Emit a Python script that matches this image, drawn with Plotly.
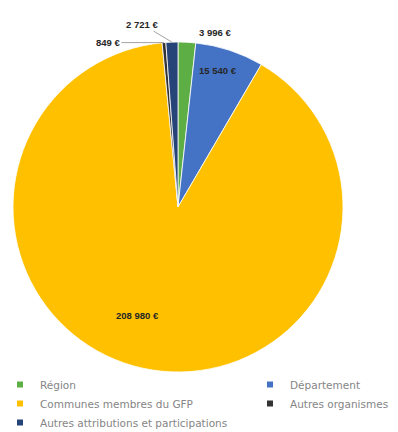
import math
import plotly.graph_objects as go

labels = ["Région", "Département", "Communes membres du GFP", "Autres organismes",
          "Autres attributions et participations"]
values = [3996, 15540, 208980, 849, 2721]
text_labels = ["3 996 €", "15 540 €", "208 980 €", "849 €", "2 721 €"]
colors = ["#5DAE45", "#4472C4", "#FFC000", "#333333", "#264478"]
legend_col = ["legend", "legend2", "legend", "legend2", "legend"]

# styling of the value labels: radial factor (1 = on the rim) and label offset in px
label_rfac = [1.0, 0.86, 0.70, 1.0, 1.0]
label_offs = [(28, -10), (0, 0), (0, 0), (-56, 0), (-30, -18)]
label_arrow = [False, False, False, True, True]
label_dtheta = [0, -2, 8, 0, 0]

W, H = 398, 432
dom_x = [13 / W, 343 / W]
dom_y = [1 - 372 / H, 1 - 42 / H]

fig = go.Figure(go.Pie(
    labels=labels, values=values,
    textinfo="none",
    marker=dict(colors=colors, line=dict(color="white", width=0.8)),
    sort=False, direction="clockwise", rotation=0,
    domain=dict(x=dom_x, y=dom_y),
    showlegend=False, hoverinfo="label+value",
))

# legend entries (two columns, as in the reference)
for lab, col, lg in zip(labels, colors, legend_col):
    fig.add_trace(go.Scatter(
        x=[None], y=[None], mode="markers", name=lab, legend=lg,
        marker=dict(symbol="square", size=6, color=col),
        legendgroup=lab, hoverinfo="skip"))

# value labels placed from the slice angles computed from the values
cx = (dom_x[0] + dom_x[1]) / 2 * W
cy = (1 - (dom_y[0] + dom_y[1]) / 2) * H
r = min((dom_x[1] - dom_x[0]) * W, (dom_y[1] - dom_y[0]) * H) / 2
total = sum(values)
cum = 0.0
for v, t, rf, off, arr, dth in zip(values, text_labels, label_rfac, label_offs,
                                    label_arrow, label_dtheta):
    mid = (cum + v / 2) / total * 360 + dth
    cum += v
    th = math.radians(mid)
    px = cx + rf * r * math.sin(th)
    py = cy - rf * r * math.cos(th)
    fig.add_annotation(
        x=px / W, y=1 - py / H, xref="paper", yref="paper",
        text=t, showarrow=True,
        ax=off[0], ay=off[1],
        arrowhead=0, arrowwidth=0.8,
        arrowcolor="#8c8c8c" if arr else "rgba(0,0,0,0)",
        font=dict(family="Liberation Sans", size=9.5, color="#262626", weight="bold"),
    )

leg_font = dict(family="DejaVu Sans", size=10.5, color="#858585")
leg_y = 1 - 370 / H
fig.update_layout(
    width=W, height=H,
    margin=dict(l=0, r=0, t=0, b=0, autoexpand=False),
    paper_bgcolor="white", plot_bgcolor="white",
    xaxis=dict(visible=False), yaxis=dict(visible=False),
    font=dict(family="Liberation Sans", color="#7f7f7f"),
    legend=dict(x=0.0, y=leg_y, xanchor="left", yanchor="top",
                font=leg_font, itemwidth=30,
                tracegroupgap=0, bgcolor="rgba(0,0,0,0)"),
    legend2=dict(x=250 / W, y=leg_y, xanchor="left", yanchor="top",
                 font=leg_font, itemwidth=30,
                 tracegroupgap=0, bgcolor="rgba(0,0,0,0)"),
)

fig.write_html("out.html")
